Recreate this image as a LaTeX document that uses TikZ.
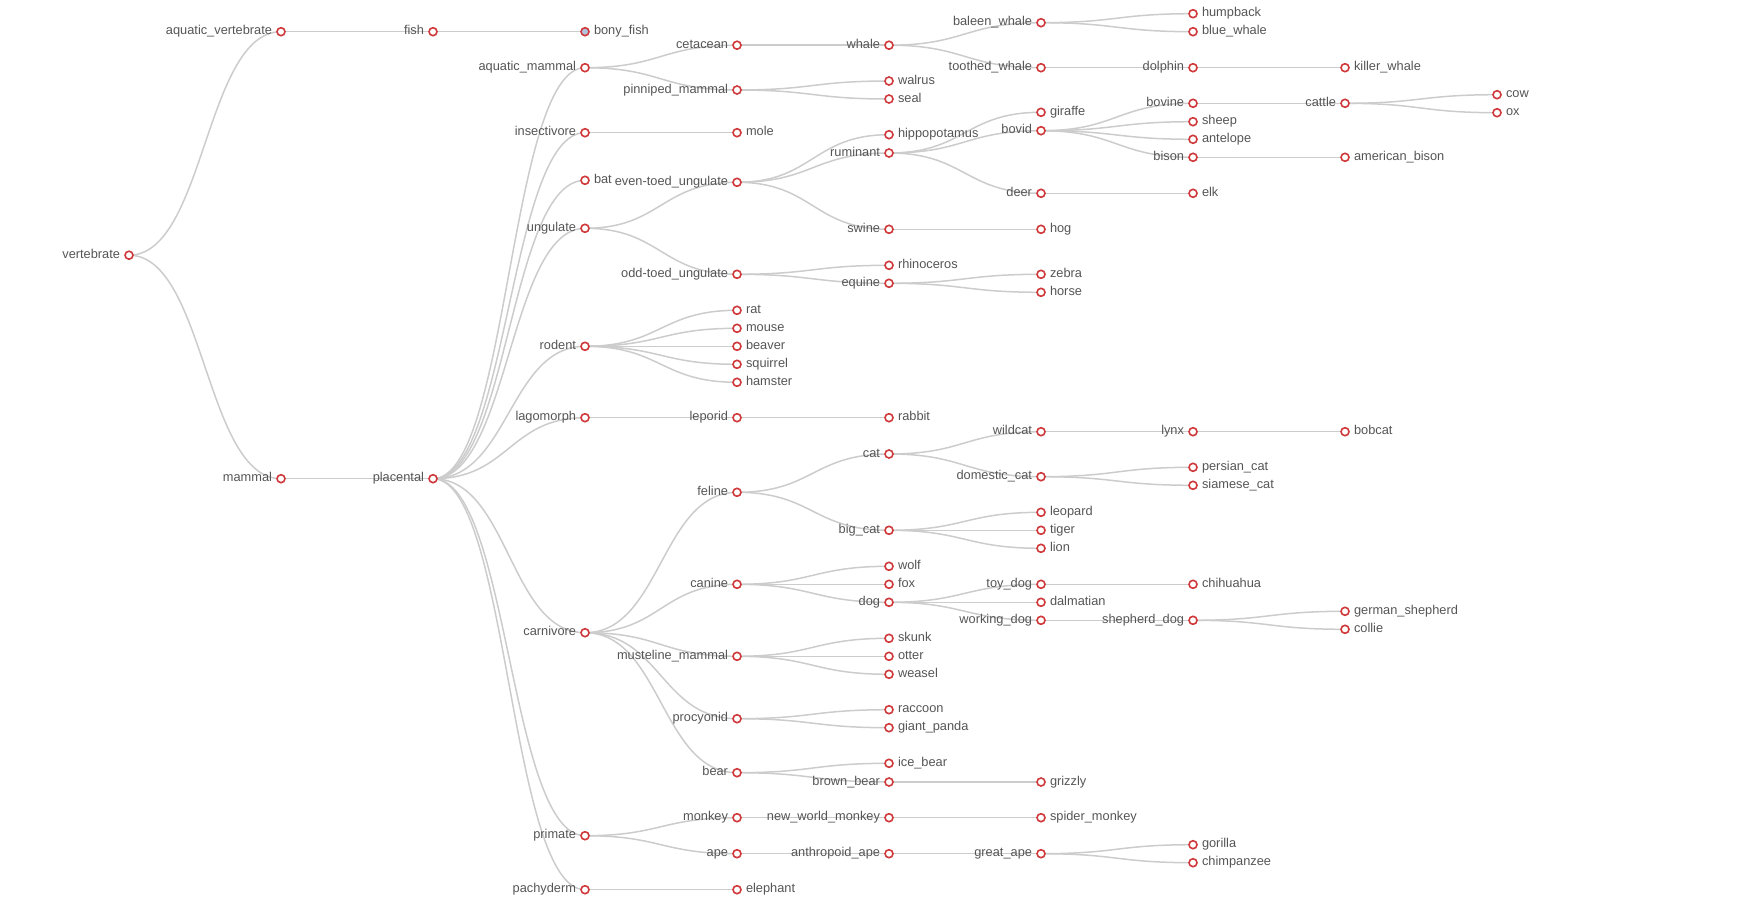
\documentclass[tikz,border=0pt]{standalone}
\usepackage{fontspec}
\setmainfont{Liberation Sans}
\usetikzlibrary{backgrounds,calc}
\definecolor{dotred}{HTML}{D0393B}
\definecolor{edgegray}{HTML}{CCCCCC}
\definecolor{labelgray}{HTML}{555555}
\definecolor{steelfill}{HTML}{B0C4DE}

\begin{document}
\begin{tikzpicture}[x=1pt,y=-1pt,font=\fontsize{12.8}{15}\selectfont,
  dot/.style={circle,draw=dotred,line width=1.6pt,fill=white,minimum size=8pt,inner sep=0pt},
  lbl/.style={inner sep=0pt,text=labelgray,text height=0.85em,text depth=0.25em},
  edge/.style={draw=edgegray,line width=1.5pt},
  label distance=4pt]
\useasboundingbox (0,0) rectangle (1753,905);
% inner node: depth, y, name, text (label on the left)
\def\tn#1#2#3#4{\node[dot,label={[lbl]left:#4}] (#3) at ({129+152*#1},#2) {};}
% leaf: label on the right
\def\tl#1#2#3#4{\node[dot,label={[lbl]right:#4}] (#3) at ({129+152*#1},#2) {};}

\tn0{255.2}{vertebrate}{vertebrate}
\tn1{31.7}{aqvert}{aquatic\_vertebrate}
\tn2{31.7}{fish}{fish}
\node[dot,fill=steelfill,label={[lbl]right:bony\_fish}] (bonyfish) at ({129+152*3},31.7) {};
\tn1{478.7}{mammal}{mammal}
\tn2{478.7}{placental}{placental}
% aquatic mammals
\tn3{67.7}{aqmammal}{aquatic\_mammal}
\tn4{45.2}{cetacean}{cetacean}
\tn5{45.2}{whale}{whale}
\tn6{22.7}{baleen}{baleen\_whale}
\tl7{13.7}{humpback}{humpback}
\tl7{31.7}{bluewhale}{blue\_whale}
\tn6{67.7}{toothed}{toothed\_whale}
\tn7{67.7}{dolphin}{dolphin}
\tl8{67.7}{killer}{killer\_whale}
\tn4{90}{pinniped}{pinniped\_mammal}
\tl5{81}{walrus}{walrus}
\tl5{99}{seal}{seal}
\tn3{132.7}{insectivore}{insectivore}
\tl4{132.7}{mole}{mole}
\tl3{180.3}{bat}{bat}
% ungulates
\tn3{228.3}{ungulate}{ungulate}
\tn4{182.3}{eventoed}{even-toed\_ungulate}
\tl5{134.7}{hippo}{hippopotamus}
\tn5{153}{ruminant}{ruminant}
\tl6{112.3}{giraffe}{giraffe}
\tn6{130.7}{bovid}{bovid}
\tn7{103.3}{bovine}{bovine}
\tn8{103.3}{cattle}{cattle}
\tl9{94.7}{cow}{cow}
\tl9{112.7}{ox}{ox}
\tl7{121.7}{sheep}{sheep}
\tl7{139.3}{antelope}{antelope}
\tn7{157.3}{bison}{bison}
\tl8{157.3}{ambison}{american\_bison}
\tn6{193.3}{deer}{deer}
\tl7{193.3}{elk}{elk}
\tn5{229.3}{swine}{swine}
\tl6{229.3}{hog}{hog}
\tn4{274.3}{oddtoed}{odd-toed\_ungulate}
\tl5{265.3}{rhino}{rhinoceros}
\tn5{283.3}{equine}{equine}
\tl6{274.3}{zebra}{zebra}
\tl6{292.3}{horse}{horse}
% rodents, lagomorphs
\tn3{346.3}{rodent}{rodent}
\tl4{310.3}{rat}{rat}
\tl4{328.3}{mouse}{mouse}
\tl4{346.3}{beaver}{beaver}
\tl4{364.3}{squirrel}{squirrel}
\tl4{382.3}{hamster}{hamster}
\tn3{417.7}{lagomorph}{lagomorph}
\tn4{417.7}{leporid}{leporid}
\tl5{417.7}{rabbit}{rabbit}
% carnivores
\tn3{632.7}{carnivore}{carnivore}
\tn4{492.3}{feline}{feline}
\tn5{454}{cat}{cat}
\tn6{431.7}{wildcat}{wildcat}
\tn7{431.7}{lynx}{lynx}
\tl8{431.7}{bobcat}{bobcat}
\tn6{476.7}{domcat}{domestic\_cat}
\tl7{467.3}{persian}{persian\_cat}
\tl7{485.3}{siamese}{siamese\_cat}
\tn5{530.3}{bigcat}{big\_cat}
\tl6{512.3}{leopard}{leopard}
\tl6{530.3}{tiger}{tiger}
\tl6{548.3}{lion}{lion}
\tn4{584.3}{canine}{canine}
\tl5{566.3}{wolf}{wolf}
\tl5{584.3}{fox}{fox}
\tn5{602.3}{dog}{dog}
\tn6{584.3}{toydog}{toy\_dog}
\tl7{584.3}{chihuahua}{chihuahua}
\tl6{602.3}{dalmatian}{dalmatian}
\tn6{620.3}{workdog}{working\_dog}
\tn7{620.3}{shepdog}{shepherd\_dog}
\tl8{611.3}{gershep}{german\_shepherd}
\tl8{629.3}{collie}{collie}
\tn4{656.3}{musteline}{musteline\_mammal}
\tl5{638.3}{skunk}{skunk}
\tl5{656.3}{otter}{otter}
\tl5{674.3}{weasel}{weasel}
\tn4{718.7}{procyonid}{procyonid}
\tl5{709.7}{raccoon}{raccoon}
\tl5{727.7}{panda}{giant\_panda}
\tn4{772.7}{bear}{bear}
\tl5{763.3}{icebear}{ice\_bear}
\tn5{782}{brownbear}{brown\_bear}
\tl6{782}{grizzly}{grizzly}
% primates, pachyderms
\tn3{835.7}{primate}{primate}
\tn4{817.7}{monkey}{monkey}
\tn5{817.7}{nwmonkey}{new\_world\_monkey}
\tl6{817.7}{spider}{spider\_monkey}
\tn4{853.7}{ape}{ape}
\tn5{853.7}{anthape}{anthropoid\_ape}
\tn6{853.7}{greatape}{great\_ape}
\tl7{844.7}{gorilla}{gorilla}
\tl7{862.7}{chimp}{chimpanzee}
\tn3{889.7}{pachyderm}{pachyderm}
\tl4{889.7}{elephant}{elephant}

\begin{scope}[on background layer]
\foreach \a/\b in {vertebrate/aqvert,aqvert/fish,fish/bonyfish,vertebrate/mammal,mammal/placental,
  placental/aqmammal,aqmammal/cetacean,cetacean/whale,whale/baleen,baleen/humpback,baleen/bluewhale,
  whale/toothed,toothed/dolphin,dolphin/killer,aqmammal/pinniped,pinniped/walrus,pinniped/seal,
  placental/insectivore,insectivore/mole,placental/bat,
  placental/ungulate,ungulate/eventoed,eventoed/hippo,eventoed/ruminant,ruminant/giraffe,ruminant/bovid,
  bovid/bovine,bovine/cattle,cattle/cow,cattle/ox,bovid/sheep,bovid/antelope,bovid/bison,bison/ambison,
  ruminant/deer,deer/elk,eventoed/swine,swine/hog,ungulate/oddtoed,oddtoed/rhino,oddtoed/equine,
  equine/zebra,equine/horse,
  placental/rodent,rodent/rat,rodent/mouse,rodent/beaver,rodent/squirrel,rodent/hamster,
  placental/lagomorph,lagomorph/leporid,leporid/rabbit,
  placental/carnivore,carnivore/feline,feline/cat,cat/wildcat,wildcat/lynx,lynx/bobcat,cat/domcat,
  domcat/persian,domcat/siamese,feline/bigcat,bigcat/leopard,bigcat/tiger,bigcat/lion,
  carnivore/canine,canine/wolf,canine/fox,canine/dog,dog/toydog,toydog/chihuahua,dog/dalmatian,
  dog/workdog,workdog/shepdog,shepdog/gershep,shepdog/collie,
  carnivore/musteline,musteline/skunk,musteline/otter,musteline/weasel,
  carnivore/procyonid,procyonid/raccoon,procyonid/panda,carnivore/bear,bear/icebear,bear/brownbear,
  brownbear/grizzly,
  placental/primate,primate/monkey,monkey/nwmonkey,nwmonkey/spider,primate/ape,ape/anthape,
  anthape/greatape,greatape/gorilla,greatape/chimp,placental/pachyderm,pachyderm/elephant}
  \draw[edge] let \p1=(\a.center), \p2=(\b.center) in
    (\p1) .. controls ({(\x1+\x2)/2},\y1) and ({(\x1+\x2)/2},\y2) .. (\p2);
\end{scope}
\end{tikzpicture}
\end{document}
